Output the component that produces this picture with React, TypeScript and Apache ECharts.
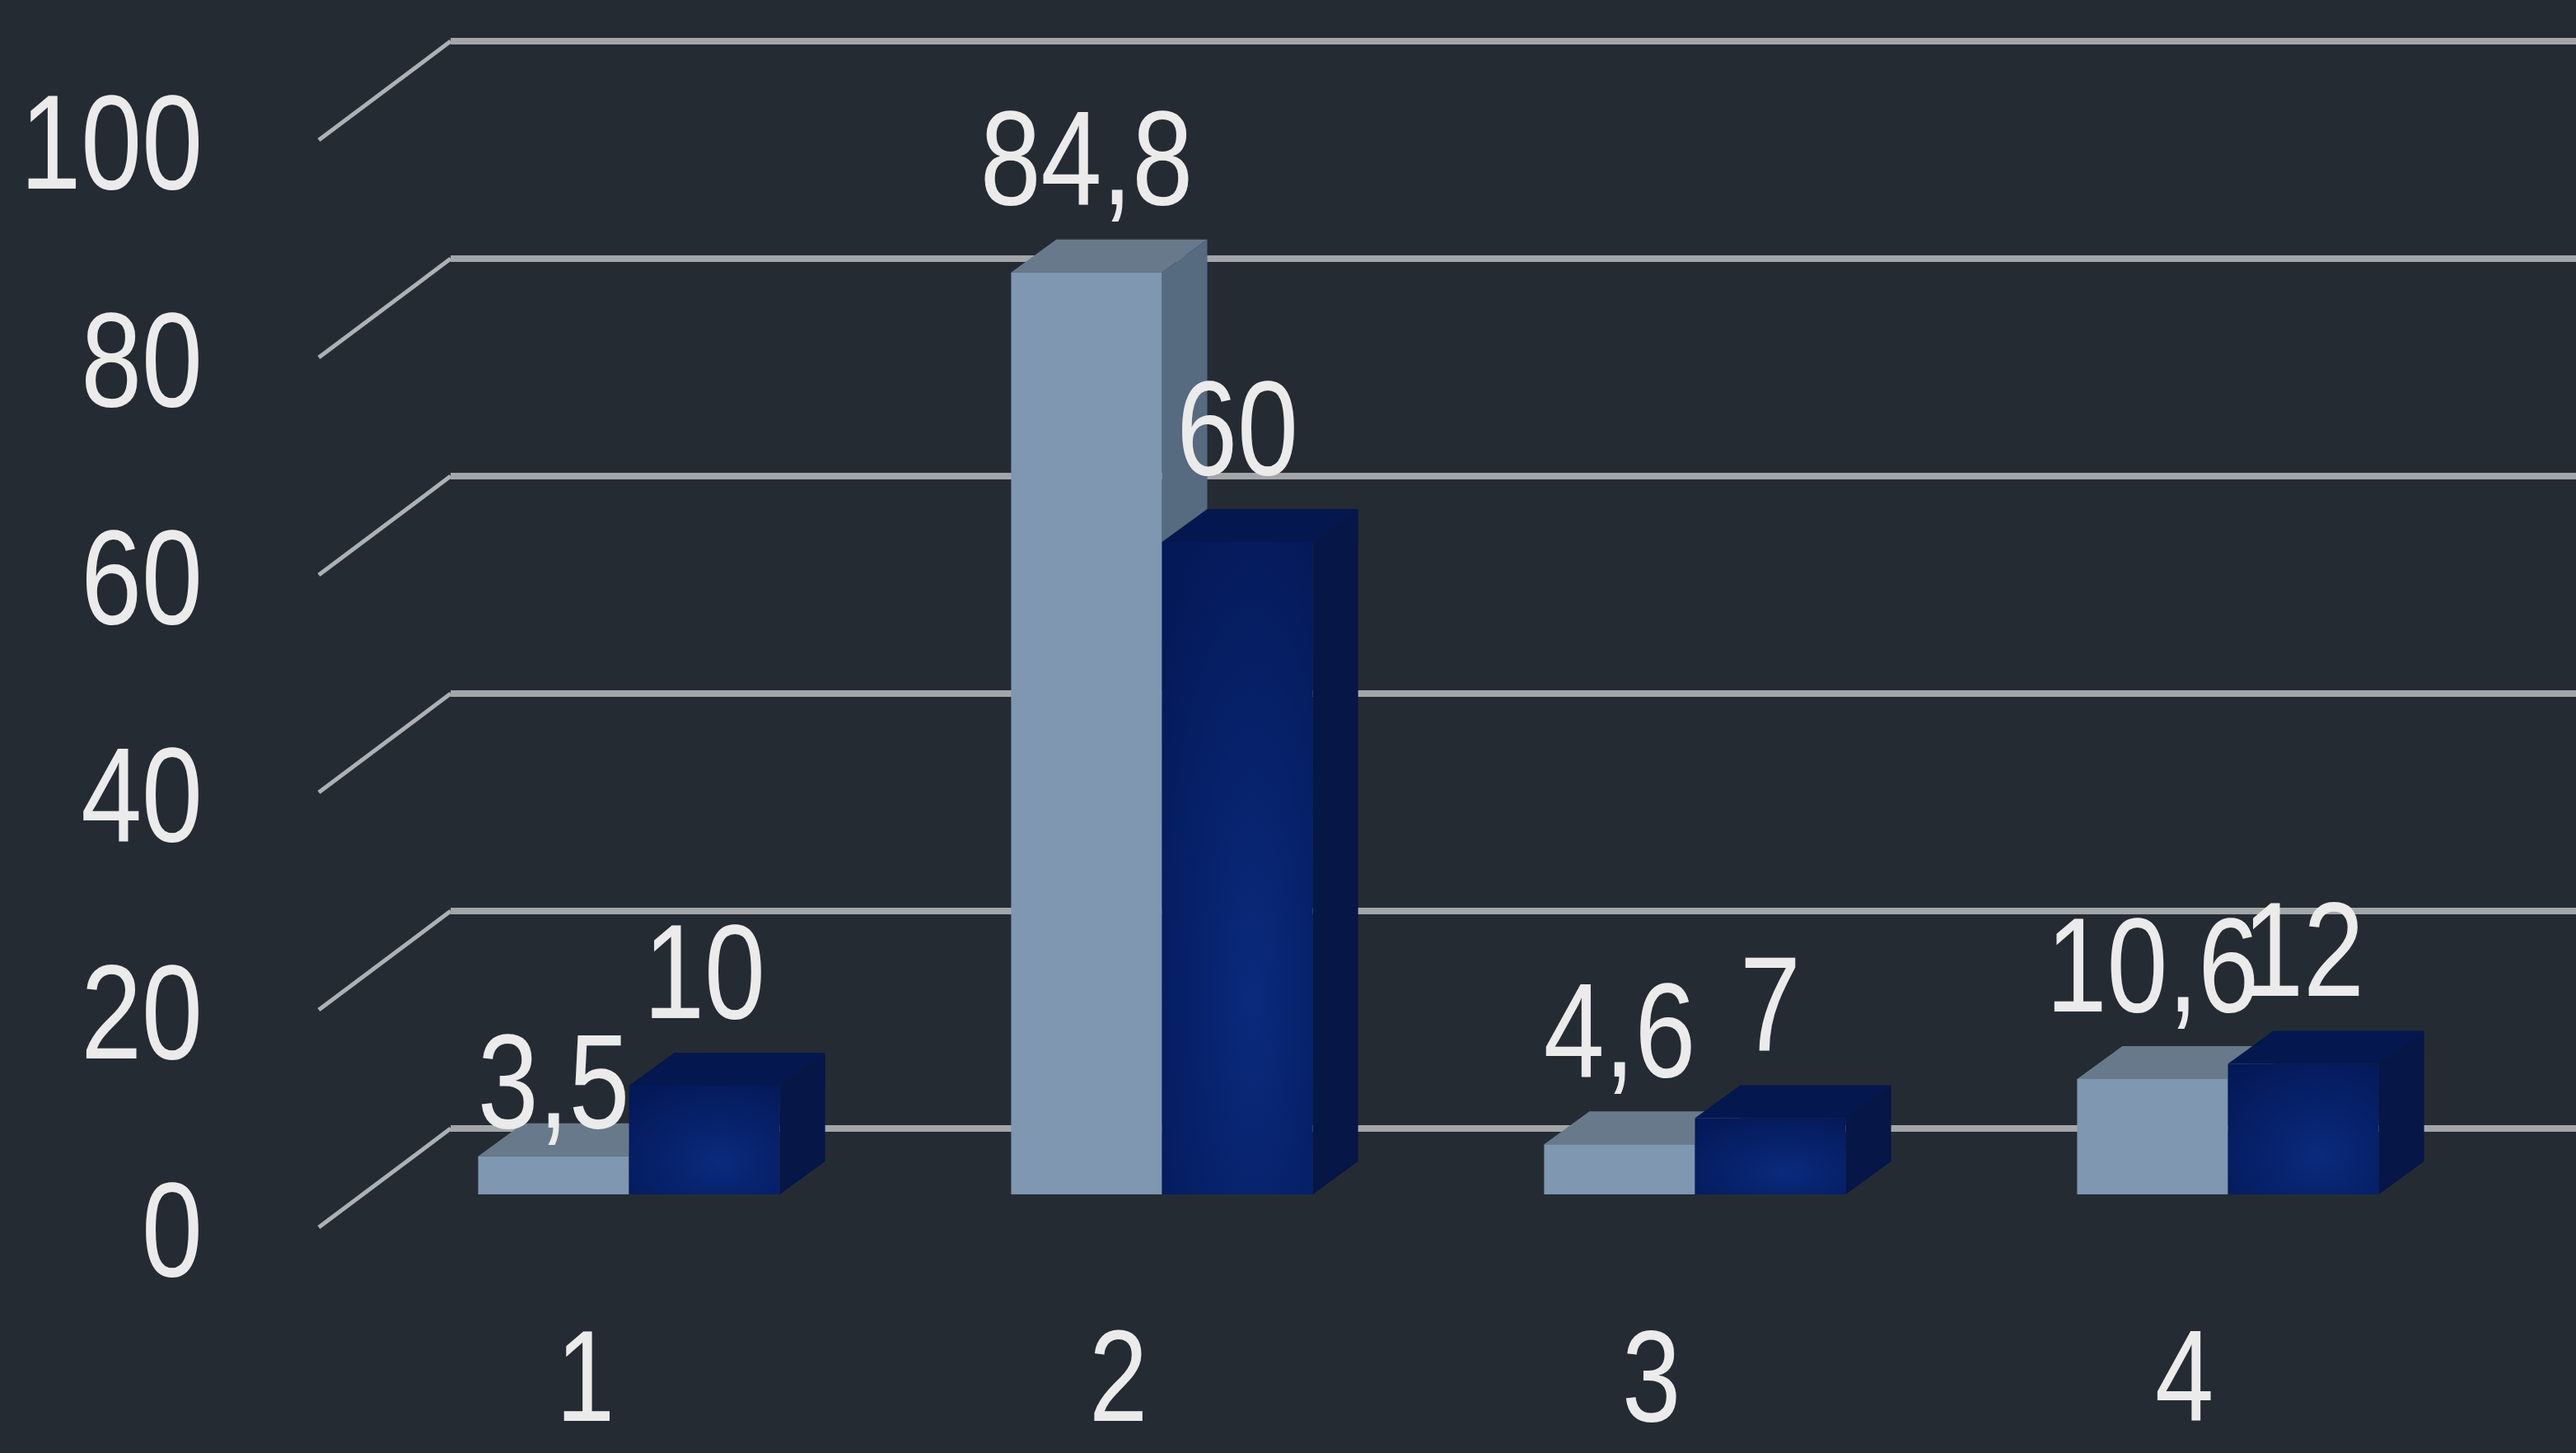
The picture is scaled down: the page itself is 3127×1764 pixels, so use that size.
import React, { useEffect, useRef } from 'react';
import * as echarts from 'echarts';

const categories = ['1', '2', '3', '4'];
const seriesLight = [3.5, 84.8, 4.6, 10.6];
const seriesDark = [10, 60, 7, 12];
const yTicks = [0, 20, 40, 60, 80, 100];

const W = 3127;
const H = 1764;
const DEPTH = [160, -120];
const BAR_OFF = [53, -40];
const BAR_DEPTH = [55, -40];
const BAR_FRAC = 0.283;
const FONT = '"Liberation Sans", Arial, sans-serif';
const FONT_SIZE = 164;
const SCALE_X = 0.81;
const TEXT = '#ebebeb';
// manual nudge of individual data labels (series key + index -> dy in px)
const LABEL_NUDGE: Record<string, number> = { A0: 48 };

function fmt(v: number) {
  return String(v).replace('.', ',');
}

function textEl(x: number, y: number, text: string, align: string, size = FONT_SIZE) {
  return {
    type: 'text',
    x,
    y,
    scaleX: SCALE_X,
    z2: 50,
    style: { text, fill: TEXT, fontSize: size, fontFamily: FONT, align, verticalAlign: 'middle', lineHeight: 150 },
  };
}

export default function App() {
  const ref = useRef<HTMLDivElement>(null);
  useEffect(() => {
    document.body.style.margin = '0';
    document.body.style.overflow = 'hidden';
    const chart = echarts.init(ref.current!, null, { renderer: 'svg' });

    const makeBar = (key: string, data: number[], side: number, colors: any) => ({
      type: 'custom',
      name: key,
      z: side === 0 ? 3 : 4,
      data: data.map((v, i) => [i, v]),
      renderItem: (params: any, api: any) => {
        const idx = api.value(0);
        const val = api.value(1);
        const top = api.coord([idx, val]);
        const base = api.coord([idx, 0]);
        const band = api.size([1, 0])[0];
        const bw = band * BAR_FRAC;
        const cx = base[0] + BAR_OFF[0];
        const x0 = side === 0 ? cx - bw : cx;
        const x1 = x0 + bw;
        const yb = base[1] + BAR_OFF[1];
        const yt = top[1] + BAR_OFF[1];
        const dx = BAR_DEPTH[0];
        const dy = BAR_DEPTH[1];
        const nudge = LABEL_NUDGE[key + idx] || 0;
        return {
          type: 'group',
          children: [
            { type: 'polygon', shape: { points: [[x0, yt], [x1, yt], [x1 + dx, yt + dy], [x0 + dx, yt + dy]] }, style: { fill: colors.top } },
            { type: 'polygon', shape: { points: [[x1, yt], [x1 + dx, yt + dy], [x1 + dx, yb + dy], [x1, yb]] }, style: { fill: colors.side } },
            { type: 'rect', shape: { x: x0, y: yt, width: bw, height: yb - yt }, style: { fill: colors.front } },
            textEl((x0 + x1) / 2, yt - 139 + nudge, fmt(val), 'center'),
          ],
        };
      },
    });

    const darkFront = new echarts.graphic.RadialGradient(0.6, 0.7, 0.8, [
      { offset: 0, color: '#0a2a7c' },
      { offset: 1, color: '#041958' },
    ]);

    chart.setOption({
      animation: false,
      backgroundColor: '#252b33',
      grid: { left: 387, right: 152, top: 170, bottom: 274 },
      xAxis: {
        type: 'category',
        data: categories,
        axisLine: { show: false },
        axisTick: { show: false },
        splitLine: { show: false },
        axisLabel: { show: false },
      },
      yAxis: {
        type: 'value',
        min: 0,
        max: 100,
        interval: 20,
        axisLine: { show: false },
        axisTick: { show: false },
        splitLine: { show: false },
        axisLabel: { show: false },
      },
      series: [
        {
          type: 'custom',
          name: 'walls',
          z: 1,
          data: yTicks.map((v) => [0, v]),
          renderItem: (params: any, api: any) => {
            const cs = params.coordSys;
            const v = api.value(1);
            const y = api.coord([0, v])[1];
            const x = cs.x;
            return {
              type: 'group',
              children: [
                { type: 'line', shape: { x1: x, y1: y, x2: x + DEPTH[0], y2: y + DEPTH[1] }, style: { stroke: '#aeb1b4', lineWidth: 5 } },
                { type: 'line', shape: { x1: x + DEPTH[0], y1: y + DEPTH[1], x2: W, y2: y + DEPTH[1] }, style: { stroke: '#a3a6a9', lineWidth: 8 } },
                textEl(x - 141, y + 2, String(v), 'right'),
              ],
            };
          },
        },
        {
          type: 'custom',
          name: 'xlabels',
          z: 2,
          data: categories.map((c, i) => [i, 0]),
          renderItem: (params: any, api: any) => {
            const idx = api.value(0);
            const p = api.coord([idx, 0]);
            return textEl(p[0], p[1] + 180, categories[idx], 'center', 158);
          },
        },
        makeBar('A', seriesLight, 0, { front: '#7f97b1', top: '#68798b', side: '#566a80' }),
        makeBar('B', seriesDark, 1, { front: darkFront, top: '#04174f', side: '#051647' }),
      ],
    });
    return () => chart.dispose();
  }, []);
  return <div ref={ref} style={{ width: W, height: H }} />;
}
